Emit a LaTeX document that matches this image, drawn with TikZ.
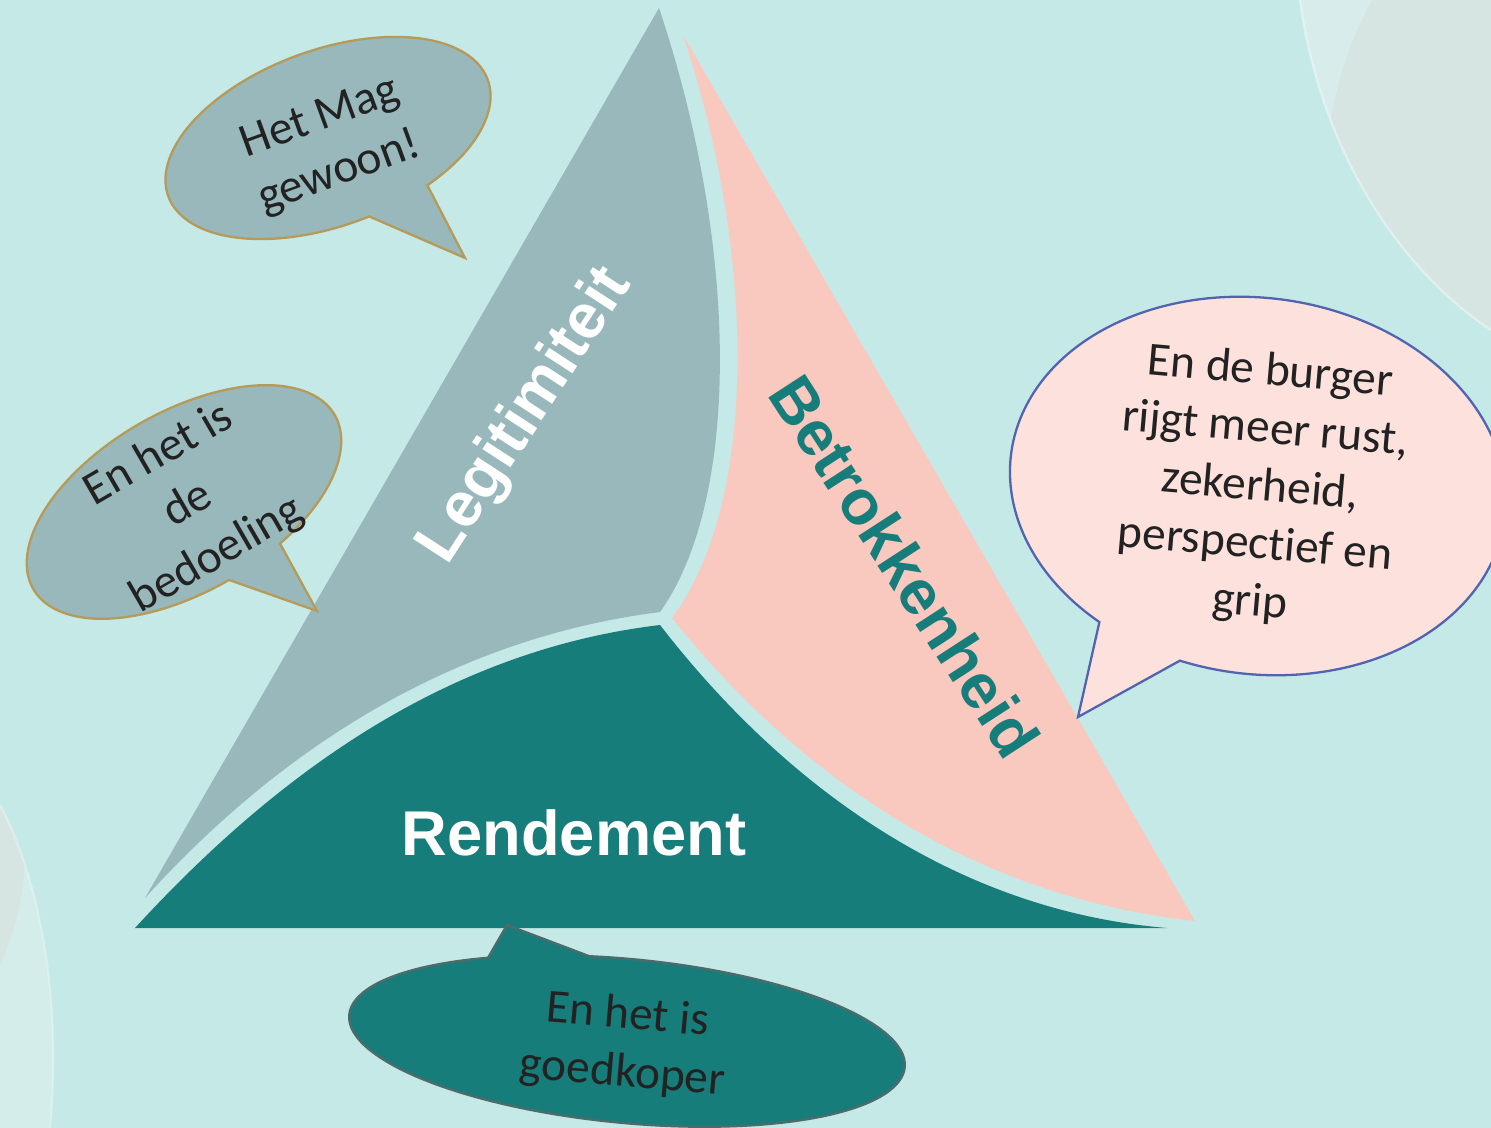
\documentclass[tikz,border=0pt]{standalone}
\usepackage{fontspec}
\setmainfont{Carlito}[Ligatures={NoCommon,NoContextual}]
\newfontfamily\labfont{Liberation Sans}
\definecolor{bgc}{HTML}{C5E9E7}
\definecolor{decolight}{HTML}{D8EDEB}
\definecolor{decodark}{HTML}{D6E5E2}
\definecolor{greyc}{HTML}{99B8BB}
\definecolor{pinkc}{HTML}{F9C9C0}
\definecolor{tealc}{HTML}{177D7B}
\definecolor{bubpink}{HTML}{FCE1DD}
\definecolor{blueline}{HTML}{5263B0}
\definecolor{goldline}{HTML}{B59A58}
\definecolor{tealline}{HTML}{4E6B6B}
\definecolor{textc}{HTML}{222222}
\tikzset{
  bubgrey/.style={fill=greyc, draw=goldline, line width=1.3pt, line join=miter},
  bubpinkst/.style={fill=bubpink, draw=blueline, line width=1.3pt, line join=miter},
  bubteal/.style={fill=tealc, draw=tealline, line width=1.3pt, line join=miter},
  bubtext/.style={align=center, text=textc, inner sep=0pt, font=\fontsize{27}{33}\selectfont},
  lab/.style={inner sep=0pt, font=\labfont\bfseries\fontsize{36}{40}\selectfont}
}
\begin{document}
\begin{tikzpicture}[x=0.02cm,y=-0.02cm]
\useasboundingbox (0,0) rectangle (1491,1128);
\clip (0,0) rectangle (1491,1128);
\fill[bgc] (0,0) rectangle (1491,1128);
% decorative circles top right
\fill[decolight] (1300,0) .. controls (1320,150) and (1400,270) .. (1491,330) -- (1491,0) -- cycle;
\begin{scope}
\clip (1300,0) .. controls (1320,150) and (1400,270) .. (1491,330) -- (1491,0) -- cycle;
\fill[decodark] (1700,180) circle[radius=374];
\end{scope}
\draw[white, opacity=0.4, line width=1.2pt] (1300,0) .. controls (1320,150) and (1400,270) .. (1491,330);
% decorative circles bottom left
\fill[decolight!80!bgc] (0,805) .. controls (40,880) and (62,1000) .. (50,1128) -- (0,1128) -- cycle;
\begin{scope}
\clip (0,805) .. controls (40,880) and (62,1000) .. (50,1128) -- (0,1128) -- cycle;
\fill[decodark] (-250,850) circle[radius=275];
\end{scope}
\draw[white, opacity=0.3, line width=1.2pt] (0,805) .. controls (40,880) and (62,1000) .. (50,1128);
% triangle segments
\fill[greyc] (659,8) .. controls (740,250) and (740,500) .. (660,612)
  .. controls (440,640) and (270,760) .. (145,898) -- cycle;
\fill[pinkc] (683,35) -- (1195,921) .. controls (960,895) and (790,765) .. (672,618)
  .. controls (760,500) and (755,250) .. (683,35) -- cycle;
\fill[tealc] (135,928) -- (1167,928) .. controls (950,910) and (780,780) .. (660,625)
  .. controls (450,650) and (280,770) .. (135,928) -- cycle;
% labels
\node[lab, text=white] (rend) at (574,833) {Rendement};
\node[lab, text=white, rotate=57] (legit) at (526,416) {Legitimiteit};
\node[lab, text=tealc, rotate=-57] (betr) at (905,566) {Betrokkenheid};
% bubble 1
\coordinate (tip1) at (465,258);
\begin{scope}[shift={(328,138)}, rotate=20]
\filldraw[bubgrey] (63:170 and 88) arc[start angle=63, end angle=-274, x radius=170, y radius=88] -- (tip1) -- cycle;
\end{scope}
\node[bubtext, rotate=20] (txt1) at (330,146) {Het Mag\\gewoon!};
% bubble 2
\coordinate (tip2) at (317,611);
\begin{scope}[shift={(184,502)}, rotate=30]
\filldraw[bubgrey] (69:174 and 90) arc[start angle=69, end angle=-270, x radius=174, y radius=90] -- (tip2) -- cycle;
\end{scope}
\node[bubtext, rotate=30] (txt2) at (188,505) {En het is\\de\\bedoeling};
% bubble 3
\coordinate (tip3) at (1078,717);
\begin{scope}[shift={(1258,486)}, rotate=-7.6]
\filldraw[bubpinkst] (102.6:249 and 188) arc[start angle=102.6, end angle=-236, x radius=249, y radius=188] -- (tip3) -- cycle;
\end{scope}
\node[bubtext, rotate=-5] (txt3) at (1260,488) {En de burger\\rijgt meer rust,\\zekerheid,\\perspectief en\\grip};
% bubble 4
\coordinate (tip4) at (507,925);
\begin{scope}[shift={(627,1041)}, rotate=-5.4]
\filldraw[bubteal] (-121.6:279 and 82) arc[start angle=-121.6, end angle=-459.4, x radius=279, y radius=82] -- (tip4) -- cycle;
\end{scope}
\node[bubtext, rotate=-5] (txt4) at (625,1045) {En het is\\goedkoper};
\end{tikzpicture}
\end{document}
